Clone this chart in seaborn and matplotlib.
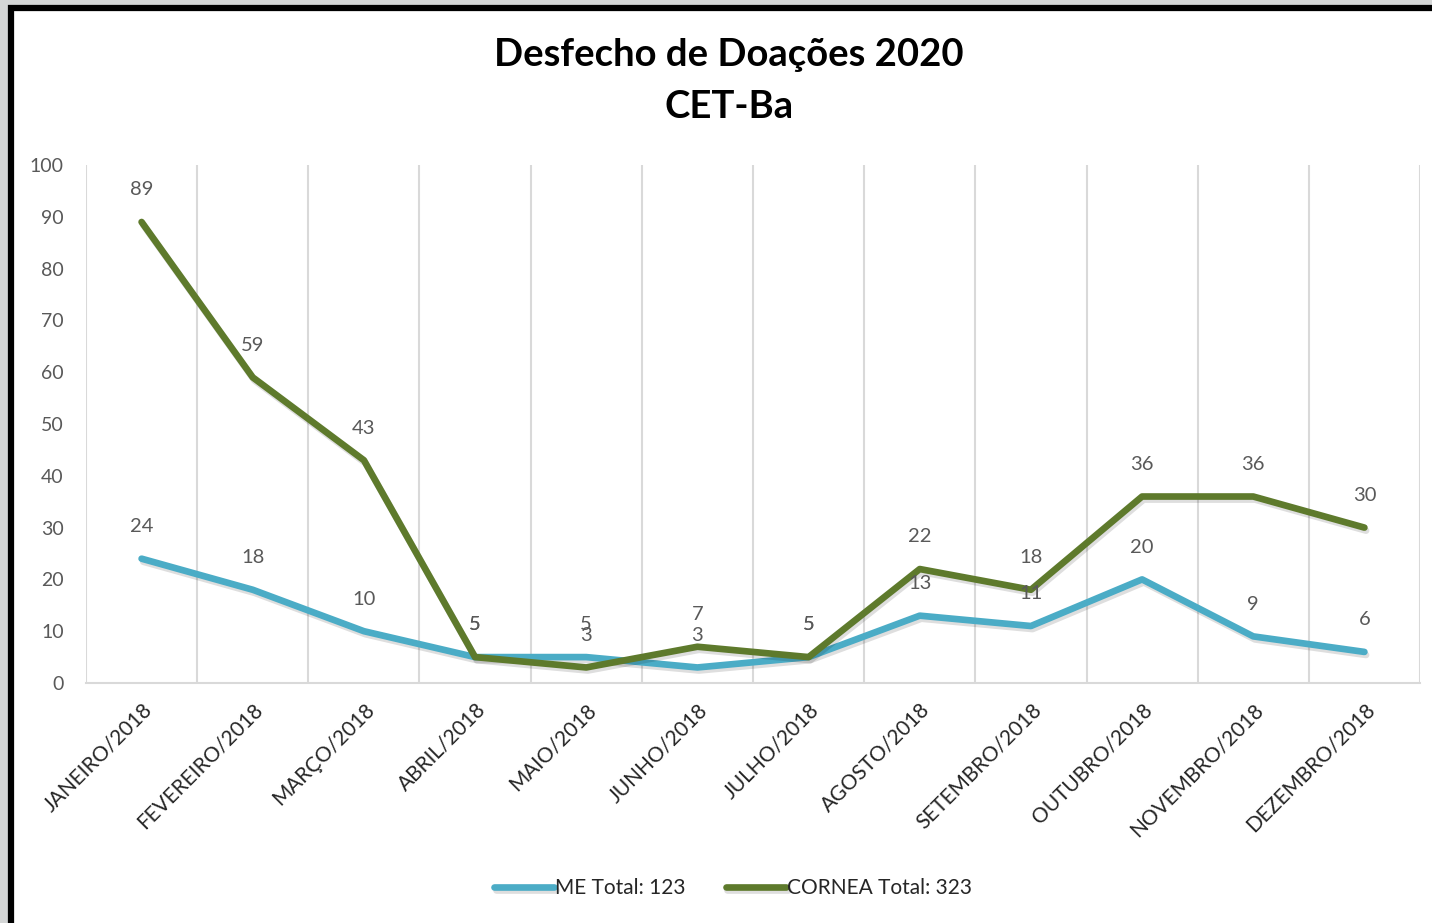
import pandas as pd
import seaborn as sns
import matplotlib.pyplot as plt
import matplotlib.patheffects as pe
from matplotlib.patches import Rectangle

# data
months = ["JANEIRO/2018", "FEVEREIRO/2018", "MARÇO/2018", "ABRIL/2018", "MAIO/2018",
          "JUNHO/2018", "JULHO/2018", "AGOSTO/2018", "SETEMBRO/2018", "OUTUBRO/2018",
          "NOVEMBRO/2018", "DEZEMBRO/2018"]
me_values = [24, 18, 10, 5, 5, 3, 5, 13, 11, 20, 9, 6]
cornea_values = [89, 59, 43, 5, 3, 7, 5, 22, 18, 36, 36, 30]
series_names = ["ME Total: 123", "CORNEA Total: 323"]

BLUE = "#4BACC6"
GREEN = "#5E7A2C"

sns.set_theme(style="white")
plt.rcParams["font.family"] = ["Lato", "DejaVu Sans"]

df = pd.DataFrame({
    "Mes": months * 2,
    "Valor": me_values + cornea_values,
    "Serie": [series_names[0]] * len(months) + [series_names[1]] * len(months),
})

fig = plt.figure(figsize=(14.32, 9.23), dpi=100)

# grey surround + black frame of the screenshot
fig.patches.append(Rectangle((0, 0), 1, 1, transform=fig.transFigure,
                             facecolor="#d4d6d6", edgecolor="none", zorder=-3))
fig.patches.append(Rectangle((11 / 1432, -0.05), 1.1, 1 - 7.5 / 923 + 0.05,
                             transform=fig.transFigure, facecolor="white",
                             edgecolor="black", linewidth=4.5, zorder=-2))

ax = fig.add_axes([86 / 1432, 1 - 683 / 923, (1420 - 86) / 1432, (683 - 165) / 923])
ax.set_facecolor("none")

shadow = [pe.SimpleLineShadow(offset=(1.2, -2.2), shadow_color="black", alpha=0.13), pe.Normal()]
sns.lineplot(data=df, x="Mes", y="Valor", hue="Serie", sort=False,
             palette={series_names[0]: BLUE, series_names[1]: GREEN},
             linewidth=4.8, ax=ax, legend=True)
for line in ax.lines:
    line.set_path_effects(shadow)
    line.set_solid_joinstyle("round")

# data labels
for vals in (me_values, cornea_values):
    for i, v in enumerate(vals):
        ax.annotate(str(v), (i, v), xytext=(0, 17), textcoords="offset points",
                    ha="center", va="bottom", fontsize=14.5, color="#595959")

ax.set_xlim(-0.5, len(months) - 0.5)
ax.set_ylim(0, 100)
ax.set_yticks(range(0, 101, 10))
ax.set_xticks(range(len(months)))
ax.set_xticks([k - 0.5 for k in range(len(months) + 1)], minor=True)
ax.set_xticklabels(months, rotation=45, ha="right", rotation_mode="anchor",
                   fontsize=15, color="#262626")
ax.tick_params(axis="x", which="major", length=0, pad=12)
ax.tick_params(axis="x", which="minor", length=0)
ax.tick_params(axis="y", length=0, pad=16, labelsize=14, labelcolor="#595959")
ax.grid(axis="x", which="minor", color="#d9d9d9", linewidth=1.5)
ax.grid(axis="y", visible=False)
ax.set_axisbelow(True)
ax.set_xlabel("")
ax.set_ylabel("")
for s in ("left", "right", "top"):
    ax.spines[s].set_visible(False)
ax.spines["bottom"].set_color("#d9d9d9")
ax.spines["bottom"].set_linewidth(1.5)

handles, labels = ax.get_legend_handles_labels()
ax.get_legend().remove()
fig.legend(handles, labels, loc="center", bbox_to_anchor=(733 / 1432, 1 - 888 / 923),
           ncol=2, frameon=False, fontsize=15, handlelength=2.9, handletextpad=0.05,
           columnspacing=1.9)

fig.text(729 / 1432, 1 - 81 / 923, "Desfecho de Doações 2020\nCET-Ba", ha="center", va="center",
         fontsize=27.5, fontweight="bold", color="black", linespacing=1.62)

fig.savefig("out.png", dpi=100)
